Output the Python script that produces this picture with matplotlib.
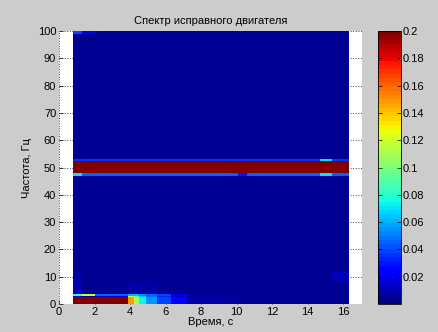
import numpy as np
import matplotlib
matplotlib.use('Agg')
import matplotlib.pyplot as plt

plt.rcParams['font.family'] = ['Liberation Sans', 'DejaVu Sans']
plt.rcParams['font.size'] = 8

# Spectrogram: time columns x frequency bands
time_edges = [0.8, 1.3, 2.0, 2.6, 3.4, 3.9, 4.2, 4.5, 4.9, 5.5, 6.3, 7.2, 10.1, 10.6, 14.7, 15.4, 16.35]
freq_edges = [0, 2.6, 3.1, 3.8, 8, 12, 47.0, 48.0, 52.4, 53.1, 99, 100]

band_0_26 = [0.25, 0.25, 0.25, 0.25, 0.22, 0.15, 0.11, 0.075, 0.055, 0.04, 0.022, 0.008, 0.006, 0.006, 0.006, 0.006]
band_26_31 = [0.01, 0.01, 0.01, 0.01, 0.02, 0.12, 0.09, 0.065, 0.048, 0.032, 0.015, 0.006, 0.005, 0.005, 0.005, 0.005]
band_31_38 = [0.08, 0.12, 0.045, 0.045, 0.045, 0.06, 0.06, 0.05, 0.045, 0.04, 0.02, 0.007, 0.006, 0.006, 0.006, 0.006]
band_38_8 = [0.01, 0.006, 0.005, 0.005, 0.005, 0.008, 0.008, 0.008, 0.007, 0.006, 0.005, 0.005, 0.005, 0.005, 0.005, 0.005]
band_8_12 = [0.008, 0.005, 0.004, 0.004, 0.004, 0.004, 0.004, 0.004, 0.004, 0.004, 0.004, 0.004, 0.004, 0.004, 0.006, 0.011]
band_12_47 = [0.004] * 16
band_47_48 = [0.07, 0.045, 0.045, 0.045, 0.045, 0.045, 0.045, 0.045, 0.045, 0.045, 0.045, 0.045, 0.03, 0.045, 0.07, 0.045]
band_48_52 = [0.25] * 16
band_52_53 = [0.035, 0.035, 0.035, 0.035, 0.035, 0.035, 0.035, 0.035, 0.035, 0.035, 0.035, 0.035, 0.035, 0.035, 0.07, 0.035]
band_53_99 = [0.004] * 16
band_99_100 = [0.04, 0.02, 0.008, 0.004, 0.004, 0.004, 0.004, 0.004, 0.004, 0.004, 0.004, 0.004, 0.004, 0.004, 0.004, 0.004]

cbar_ticks = [0.02, 0.04, 0.06, 0.08, 0.1, 0.12, 0.14, 0.16, 0.18, 0.2]
cbar_labels = ['0.02', '0.04', '0.06', '0.08', '0.1', '0.12', '0.14', '0.16', '0.18', '0.2']

spec = np.array([band_0_26, band_26_31, band_31_38, band_38_8, band_8_12, band_12_47,
                 band_47_48, band_48_52, band_52_53, band_53_99, band_99_100])

bg = '#cccccc'
fig = plt.figure(figsize=(4.38, 3.32), dpi=100, facecolor=bg)
ax = fig.add_axes([0.1347, 0.0843, 0.6918, 0.8223])
cax = fig.add_axes([0.863, 0.0843, 0.0525, 0.8223])

cmap = plt.get_cmap('jet', 64)
mesh = ax.pcolormesh(time_edges, freq_edges, spec, cmap=cmap, vmin=0, vmax=0.2,
                     shading='flat', zorder=2)

ax.set_xlim(0, 17.07)
ax.set_ylim(0, 100)
ax.set_xticks(range(0, 17, 2))
ax.set_yticks(range(0, 101, 10))
ax.set_facecolor('white')
ax.grid(True, linestyle=':', color='#444444', linewidth=0.7)
ax.set_axisbelow(True)
for s in ax.spines.values():
    s.set_visible(False)
ax.tick_params(direction='in', length=3, width=0.5, pad=2)

ax.set_title('Спектр исправного двигателя', fontsize=8, pad=5)
ax.set_xlabel('Время, с', labelpad=0)
ax.set_ylabel('Частота, Гц', labelpad=4)

cb = fig.colorbar(mesh, cax=cax)
cb.set_ticks(cbar_ticks)
cb.set_ticklabels(cbar_labels)
cb.outline.set_linewidth(0.6)
cax.tick_params(direction='in', length=3, width=0.5, left=True, right=True, pad=1)

fig.savefig('out.png', dpi=100, facecolor=bg)
